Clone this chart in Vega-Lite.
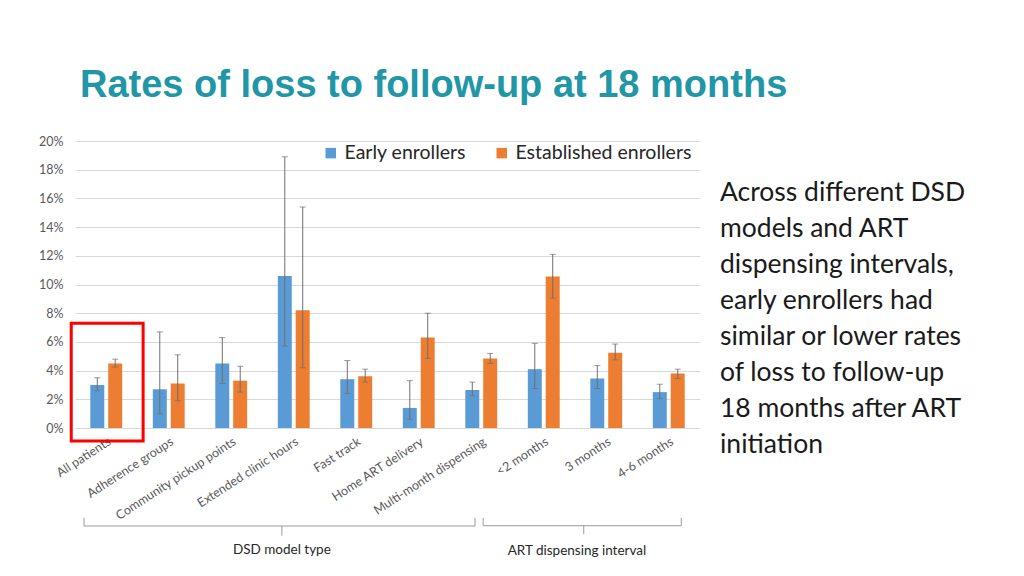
{
  "$schema": "https://vega.github.io/schema/vega-lite/v6.json",
  "width": 625,
  "height": 287,
  "autosize": "none",
  "padding": {"left": 75, "top": 141, "right": 324, "bottom": 148},
  "background": "white",
  "title": {
    "text": "Rates of loss to follow-up at 18 months",
    "font": "Liberation Sans",
    "fontSize": 38,
    "fontWeight": "bold",
    "color": "#2196A6",
    "anchor": "start",
    "frame": "group",
    "baseline": "alphabetic",
    "offset": 0,
    "dx": 5
  },
  "config": {
    "view": {"stroke": null},
    "font": "Lato",
    "axisY": {
      "title": null,
      "labelOverlap": false,
      "labelFontSize": 12.5,
      "labelColor": "#595959",
      "labelFont": "Lato",
      "labelPadding": 12,
      "domain": false,
      "ticks": false,
      "grid": true,
      "gridColor": "#d9d9d9"
    }
  },
  "layer": [
    {
      "data": {
        "values": [
          {"category": "All patients", "group": "Early enrollers", "value": 3.0, "lo": 2.6, "hi": 3.5},
          {"category": "All patients", "group": "Established enrollers", "value": 4.5, "lo": 4.25, "hi": 4.8},
          {"category": "Adherence groups", "group": "Early enrollers", "value": 2.7, "lo": 1.0, "hi": 6.7},
          {"category": "Adherence groups", "group": "Established enrollers", "value": 3.1, "lo": 1.9, "hi": 5.1},
          {"category": "Community pickup points", "group": "Early enrollers", "value": 4.5, "lo": 3.1, "hi": 6.3},
          {"category": "Community pickup points", "group": "Established enrollers", "value": 3.3, "lo": 2.5, "hi": 4.3},
          {"category": "Extended clinic hours", "group": "Early enrollers", "value": 10.6, "lo": 5.7, "hi": 18.9},
          {"category": "Extended clinic hours", "group": "Established enrollers", "value": 8.2, "lo": 4.2, "hi": 15.4},
          {"category": "Fast track", "group": "Early enrollers", "value": 3.4, "lo": 2.4, "hi": 4.7},
          {"category": "Fast track", "group": "Established enrollers", "value": 3.6, "lo": 3.2, "hi": 4.1},
          {"category": "Home ART delivery", "group": "Early enrollers", "value": 1.4, "lo": 0.6, "hi": 3.3},
          {"category": "Home ART delivery", "group": "Established enrollers", "value": 6.3, "lo": 4.85, "hi": 8.0},
          {"category": "Multi-month dispensing", "group": "Early enrollers", "value": 2.65, "lo": 2.25, "hi": 3.2},
          {"category": "Multi-month dispensing", "group": "Established enrollers", "value": 4.85, "lo": 4.5, "hi": 5.2},
          {"category": "<2 months", "group": "Early enrollers", "value": 4.1, "lo": 2.75, "hi": 5.9},
          {"category": "<2 months", "group": "Established enrollers", "value": 10.55, "lo": 9.05, "hi": 12.1},
          {"category": "3 months", "group": "Early enrollers", "value": 3.45, "lo": 2.75, "hi": 4.35},
          {"category": "3 months", "group": "Established enrollers", "value": 5.25, "lo": 4.75, "hi": 5.85},
          {"category": "4-6 months", "group": "Early enrollers", "value": 2.5, "lo": 2.05, "hi": 3.05},
          {"category": "4-6 months", "group": "Established enrollers", "value": 3.8, "lo": 3.45, "hi": 4.1}
        ]
      },
      "encoding": {
        "x": {
          "field": "category",
          "type": "nominal",
          "sort": null,
          "scale": {"paddingInner": 0.49, "paddingOuter": 0.245},
          "axis": {
            "title": null,
            "labelAngle": -33,
            "labelFontSize": 12.5,
            "labelColor": "#595959",
            "labelFont": "Lato",
            "labelPadding": 7,
            "ticks": false,
            "domainColor": "#d9d9d9"
          }
        },
        "xOffset": {"field": "group", "type": "nominal", "scale": {"paddingInner": 0.22}}
      },
      "layer": [
        {
          "mark": {"type": "bar"},
          "encoding": {
            "y": {
              "field": "value",
              "type": "quantitative",
              "scale": {"domain": [0, 20], "nice": false, "zero": true},
              "axis": {"values": [0, 2, 4, 6, 8, 10, 12, 14, 16, 18, 20], "labelExpr": "datum.value + '%'"}
            },
            "color": {
              "field": "group",
              "type": "nominal",
              "scale": {"domain": ["Early enrollers", "Established enrollers"], "range": ["#5B9BD5", "#ED7D31"]},
              "legend": {
                "title": null,
                "orient": "none",
                "legendX": 246,
                "legendY": 2,
                "direction": "horizontal",
                "symbolType": "square",
                "symbolSize": 110,
                "symbolStrokeWidth": 0,
                "labelFontSize": 19.5,
                "labelLimit": 400,
                "labelFont": "Lato",
                "labelColor": "#262626",
                "columnPadding": 26
              }
            }
          }
        },
        {
          "mark": {"type": "rule", "color": "#6f6f6f", "strokeWidth": 1},
          "encoding": {
            "y": {"field": "lo", "type": "quantitative", "axis": {"values": [0, 2, 4, 6, 8, 10, 12, 14, 16, 18, 20], "labelExpr": "datum.value + '%'"}},
            "y2": {"field": "hi"}
          }
        },
        {
          "mark": {"type": "tick", "color": "#6f6f6f", "size": 6, "thickness": 1},
          "encoding": {"y": {"field": "lo", "type": "quantitative", "axis": {"values": [0, 2, 4, 6, 8, 10, 12, 14, 16, 18, 20], "labelExpr": "datum.value + '%'"}}}
        },
        {
          "mark": {"type": "tick", "color": "#6f6f6f", "size": 6, "thickness": 1},
          "encoding": {"y": {"field": "hi", "type": "quantitative", "axis": {"values": [0, 2, 4, 6, 8, 10, 12, 14, 16, 18, 20], "labelExpr": "datum.value + '%'"}}}
        }
      ]
    },
    {
      "layer": [
        {
          "data": {"values": [{"x1": -0.06, "x2": 1.09, "y1": 7.3, "y2": -0.9}]},
          "mark": {"type": "rect", "fill": null, "stroke": "#FF0000", "strokeWidth": 3, "filled": false},
          "encoding": {
            "x": {"field": "x1", "type": "quantitative", "scale": {"domain": [0, 10], "nice": false, "zero": false}, "axis": null},
            "x2": {"field": "x2"},
            "y": {"field": "y1", "type": "quantitative", "axis": {"values": [0, 2, 4, 6, 8, 10, 12, 14, 16, 18, 20], "labelExpr": "datum.value + '%'"}},
            "y2": {"field": "y2"}
          }
        },
        {
          "data": {
            "values": [
              {"x1": 0.144, "x2": 6.4, "y1": -6.83, "y2": -6.83},
              {"x1": 0.144, "x2": 0.144, "y1": -6.25, "y2": -6.83},
              {"x1": 6.4, "x2": 6.4, "y1": -6.25, "y2": -6.83},
              {"x1": 3.31, "x2": 3.31, "y1": -6.83, "y2": -7.5},
              {"x1": 6.53, "x2": 9.7, "y1": -6.81, "y2": -6.81},
              {"x1": 6.53, "x2": 6.53, "y1": -6.27, "y2": -6.81},
              {"x1": 9.7, "x2": 9.7, "y1": -6.27, "y2": -6.81},
              {"x1": 8.14, "x2": 8.14, "y1": -6.81, "y2": -7.4}
            ]
          },
          "mark": {"type": "rule", "color": "#9a9a9a", "strokeWidth": 1},
          "encoding": {
            "x": {"field": "x1", "type": "quantitative"},
            "x2": {"field": "x2"},
            "y": {"field": "y1", "type": "quantitative", "axis": {"values": [0, 2, 4, 6, 8, 10, 12, 14, 16, 18, 20], "labelExpr": "datum.value + '%'"}},
            "y2": {"field": "y2"}
          }
        },
        {
          "data": {
            "values": [
              {"label": "DSD model type", "x": 3.31, "y": -8.5},
              {"label": "ART dispensing interval", "x": 8.03, "y": -8.55}
            ]
          },
          "mark": {"type": "text", "fontSize": 13.5, "font": "Lato", "color": "#262626", "align": "center", "baseline": "middle"},
          "encoding": {
            "x": {"field": "x", "type": "quantitative"},
            "y": {"field": "y", "type": "quantitative", "axis": {"values": [0, 2, 4, 6, 8, 10, 12, 14, 16, 18, 20], "labelExpr": "datum.value + '%'"}},
            "text": {"field": "label"}
          }
        },
        {
          "data": {
            "values": [
              {"note": "Across different DSD\nmodels and ART\ndispensing intervals,\nearly enrollers had\nsimilar or lower rates\nof loss to follow-up\n18 months after ART\ninitiation", "x": 10.32, "y": 15.82}
            ]
          },
          "mark": {"type": "text", "fontSize": 26.5, "font": "Lato", "color": "#1a1a1a", "align": "left", "baseline": "alphabetic", "lineBreak": "\n", "lineHeight": 36},
          "encoding": {
            "x": {"field": "x", "type": "quantitative"},
            "y": {"field": "y", "type": "quantitative", "axis": {"values": [0, 2, 4, 6, 8, 10, 12, 14, 16, 18, 20], "labelExpr": "datum.value + '%'"}},
            "text": {"field": "note"}
          }
        }
      ]
    }
  ],
  "resolve": {"scale": {"x": "independent"}}
}
